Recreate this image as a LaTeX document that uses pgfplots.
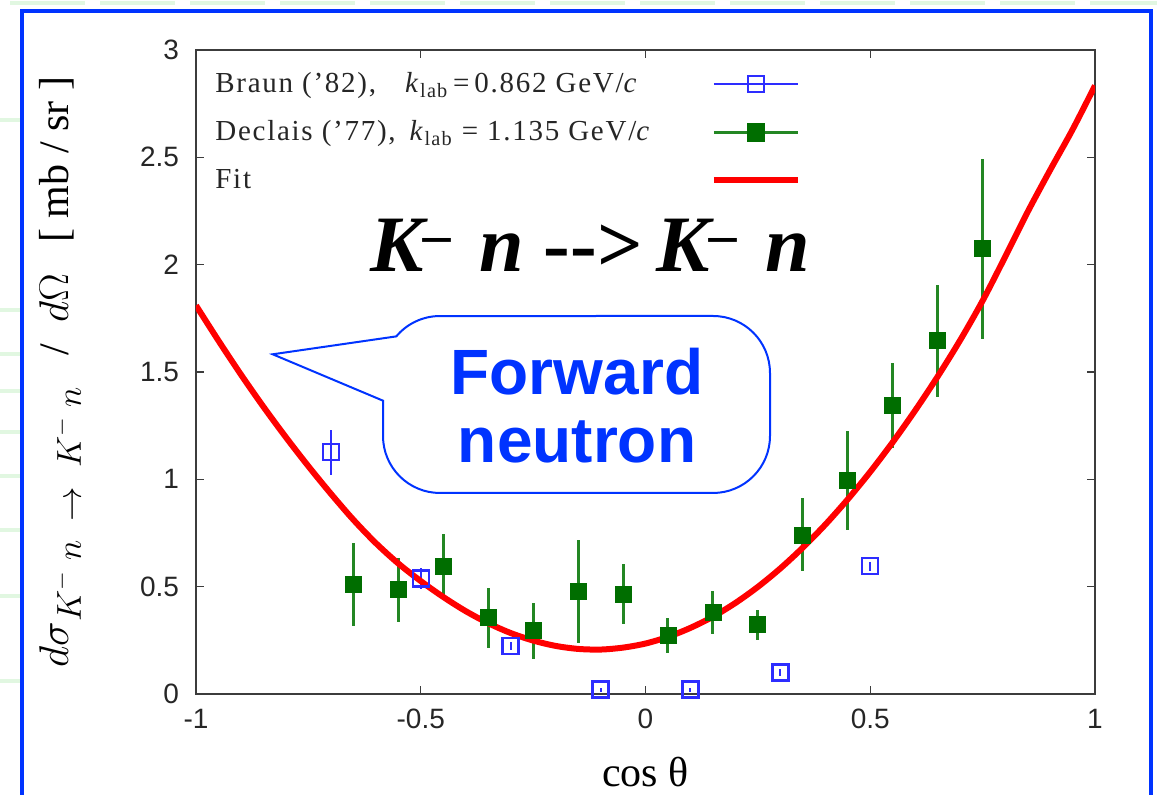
\documentclass[border=0pt]{standalone}
\usepackage{fontspec}
\setmainfont{Liberation Serif}
\newfontfamily\arial{Liberation Sans}
\newfontfamily\legfont[LetterSpace=6]{Liberation Serif}
\usepackage{pgfplots}
\pgfplotsset{compat=1.18}
\definecolor{bblue}{RGB}{45,45,255}
\definecolor{dgreen}{RGB}{0,110,0}
\definecolor{egreen}{RGB}{35,135,35}
\definecolor{cblue}{RGB}{0,51,255}
\definecolor{axgray}{RGB}{60,60,60}
\definecolor{palegreen}{RGB}{225,247,225}

\pgfplotstableread{
x y e
-0.7 1.127 0.105
-0.5 0.538 0.05
-0.3 0.223 0.02
-0.1 0.02 0.01
0.1 0.02 0.01
0.3 0.10 0.015
0.5 0.595 0.02
}\braun

\pgfplotstableread{
x y e
-0.65 0.51 0.195
-0.55 0.485 0.15
-0.45 0.595 0.15
-0.35 0.355 0.14
-0.25 0.295 0.13
-0.15 0.478 0.24
-0.05 0.465 0.14
0.05 0.272 0.08
0.15 0.381 0.10
0.25 0.322 0.07
0.35 0.741 0.17
0.45 0.993 0.23
0.55 1.344 0.20
0.65 1.645 0.26
0.75 2.074 0.42
}\declais

\pgfplotstableread{
x y
-1.00 1.810
-0.95 1.646
-0.90 1.488
-0.85 1.338
-0.80 1.196
-0.75 1.061
-0.70 0.933
-0.65 0.812
-0.60 0.703
-0.55 0.608
-0.50 0.526
-0.45 0.452
-0.40 0.386
-0.35 0.330
-0.30 0.284
-0.25 0.249
-0.20 0.224
-0.15 0.210
-0.10 0.207
-0.05 0.216
0.00 0.235
0.05 0.266
0.10 0.308
0.15 0.360
0.20 0.424
0.25 0.499
0.30 0.585
0.35 0.682
0.40 0.789
0.45 0.907
0.50 1.035
0.55 1.173
0.60 1.321
0.65 1.479
0.70 1.648
0.75 1.832
0.80 2.036
0.85 2.245
0.90 2.440
0.95 2.629
1.00 2.834
}\fit

\begin{document}
\begin{tikzpicture}
\useasboundingbox (0,0) rectangle (578.5pt,397.5pt);
\fill[white] (0,0) rectangle (578.5pt,397.5pt);
\begin{scope}[x=0.5pt,y=0.5pt]
\foreach \yy in {675,485,441,404,363,319,265,199,114}
  \draw[palegreen, line width=2pt] (0,\yy) -- (20,\yy);
\foreach \xx in {10,100,190,280,370,460,550,640,730,820,910,1000,1090}
  \draw[palegreen, line width=2pt] (\xx,792) -- (\xx+75,792);
\end{scope}
\begin{axis}[
  at={(98pt,50.5pt)}, anchor=south west,
  scale only axis, width=449.5pt, height=322pt,
  xmin=-1, xmax=1, ymin=0, ymax=3,
  xtick={-1,-0.5,0,0.5,1},
  ytick={0,0.5,1,1.5,2,2.5,3},
  xtick pos=both, ytick pos=both,
  tick align=inside,
  major tick length=4pt,
  minor tick num=0,
  axis line style={axgray, line width=1.3pt},
  tick style={axgray, line width=0.7pt},
  /pgf/number format/assume math mode=true,
  ticklabel style={font=\arial\fontsize{14}{14}\selectfont, text=black!85},
  xticklabel style={yshift=-4pt},
  yticklabel style={xshift=-5pt},
  xlabel={\fontsize{21}{22}\selectfont cos θ},
  ylabel={\fontsize{21}{24}\selectfont $d\sigma$\raisebox{-0.3em}{\fontsize{17}{17}\selectfont $K^{-}\;n\;\rightarrow\;K^{-}\;n$}\enspace\ /\enspace$d\Omega$\enspace\ [\ mb\ /\ sr\ ]},
  every axis x label/.style={at={(axis description cs:0.5,-0.1211)}, anchor=center, inner sep=0pt},
  every axis y label/.style={at={(axis description cs:-0.1513,0.5)}, anchor=center, rotate=90},
  legend style={at={(axis description cs:0.010,0.978)}, anchor=north west, draw=none, fill=none,
    font=\legfont\fontsize{14.5}{16}\selectfont, text=black!85, row sep=8.5pt, column sep=28pt},
  legend cell align=left,
  legend plot pos=right,
  legend image code/.code={\draw[mark repeat=2,mark phase=2,#1] plot coordinates {(0pt,0pt) (21pt,0pt) (42pt,0pt)};},
]
\addlegendimage{bblue, line width=1pt, mark=square, mark size=4pt, mark options={line width=1.2pt}}
\addlegendentry{Braun (’82),\quad \textit{k}\textsubscript{lab}\,=\,0.862 GeV/\textit{c}}
\addlegendimage{egreen, line width=1.3pt, mark=square*, mark size=4pt, mark options={fill=dgreen, draw=dgreen}}
\addlegendentry{Declais (’77),\, \textit{k}\textsubscript{lab} = 1.135 GeV/\textit{c}}
\addlegendimage{red, line width=3pt}
\addlegendentry{Fit}

\addplot[forget plot, only marks, bblue, mark=square, mark size=4pt, mark options={line width=1.2pt},
  error bars/.cd, y dir=both, y explicit, error mark=none, error bar style={line width=1pt, bblue}]
  table[x=x, y=y, y error=e] {\braun};
\addplot[forget plot, only marks, dgreen, mark=square*, mark size=4pt, mark options={fill=dgreen, draw=dgreen},
  error bars/.cd, y dir=both, y explicit, error mark=none, error bar style={line width=1.5pt, egreen}]
  table[x=x, y=y, y error=e] {\declais};
\addplot[forget plot, red, line width=3pt, smooth] table[x=x, y=y] {\fit};
\end{axis}

\begin{scope}[x=0.5pt,y=0.5pt]
\draw[cblue, line width=1pt, fill=white] (272.7,440.7) -- (396.3,458.6)
  arc[start angle=140,end angle=90,radius=57] -- (713,479)
  arc[start angle=90,end angle=0,radius=57] -- (770,359)
  arc[start angle=0,end angle=-90,radius=57] -- (440,302)
  arc[start angle=-90,end angle=-180,radius=57] -- (383,394.3) -- cycle;
\node[font=\arial\bfseries\fontsize{32}{34}\selectfont, text=cblue, align=center] at (577,389) {Forward\\neutron};
\node[anchor=base, font=\bfseries\itshape\fontsize{40}{44}\selectfont] at (590,523)
  {K\textsuperscript{–}\,\,n {\upshape -{}-{}>}\,K\textsuperscript{–}\,\,n};
\draw[cblue, line width=2pt] (22,0) -- (22,784) -- (1151,784) -- (1151,0);
\end{scope}
\end{tikzpicture}
\end{document}
